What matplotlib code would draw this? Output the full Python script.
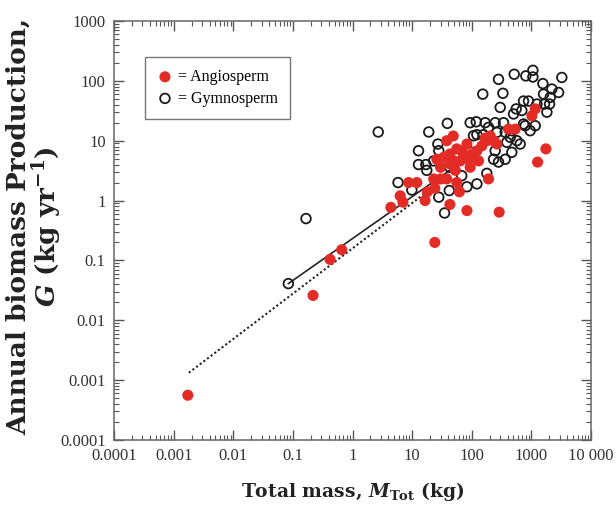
import numpy as np
import matplotlib.pyplot as plt
from matplotlib.ticker import FixedLocator, LogLocator, NullFormatter

plt.rcParams['font.family'] = ['Liberation Serif', 'DejaVu Serif']
plt.rcParams['mathtext.fontset'] = 'custom'
plt.rcParams['mathtext.rm'] = 'DejaVu Serif'
plt.rcParams['mathtext.it'] = 'DejaVu Serif:italic'
plt.rcParams['mathtext.bf'] = 'DejaVu Serif:bold'
plt.rcParams['mathtext.bfit'] = 'DejaVu Serif:italic:bold'

# angiosperms (filled red): total mass (kg), annual production (kg/yr)
angio_mass = [0.00173, 0.218, 0.42, 0.66,
              4.4, 6.3, 7.0, 8.7, 12, 16.5, 18, 24, 23, 30, 38, 24, 43, 62, 56, 53,
              49, 26, 34, 43, 38, 49, 56, 73, 83, 94, 100, 122, 130, 148, 168, 204,
              232, 264, 191, 83, 288, 414, 535, 1020, 1160, 1750, 1270, 68, 30,
              64, 88, 43, 179]
angio_prod = [0.00056, 0.026, 0.104, 0.151,
              0.77, 1.2, 0.94, 2.0, 2.0, 1.0, 1.4, 1.6, 2.3, 2.3, 2.3, 0.20, 0.86, 1.4, 2.0, 3.2,
              4.6, 4.9, 5.3, 6.0, 10, 12, 7.3, 5.3, 8.8, 3.6, 6.0, 6.8, 4.6, 8.2, 11, 12,
              10, 8.8, 2.3, 0.68, 0.64, 15.6, 15.6, 26, 34, 7.3, 4.4, 6.8, 3.6,
              4.6, 4.9, 4.1, 10]

# gymnosperms (open circles)
gymno_mass = [0.084, 0.166,
              2.7, 5.8, 9.9, 12.8, 12.8, 17, 17.6, 19, 27, 28, 28, 35, 39, 42, 43, 68,
              83, 122, 119, 168, 179, 122, 157, 247, 341, 264, 281, 153, 333, 300,
              515, 807, 1060, 1060, 1560, 3240, 1600, 2210, 2860, 2070, 1660, 2020,
              738, 895, 556, 692, 738, 502, 1240, 1820, 955, 1160, 247, 232, 281,
              364, 470, 388, 442, 570, 649, 470, 364, 787, 23, 107, 191, 88, 94]
gymno_prod = [0.041, 0.50,
              14, 2.0, 1.5, 6.8, 4.0, 4.0, 3.2, 14, 8.8, 6.8, 1.14, 0.62, 19.5, 1.47, 3.6, 2.6,
              1.7, 1.9, 20.7, 20, 2.85, 12.6, 12.6, 20, 20, 13.8, 106, 60, 62, 36,
              129, 121, 150, 116, 90, 114, 60, 73, 64, 53, 41, 41,
              46, 46, 34, 32, 19, 28, 41, 30, 14.7, 17.8, 6.8, 4.9, 4.4,
              4.9, 6.4, 9.4, 11.4, 10, 8.8, 14.7, 13.8, 17.8, 4.6, 12.1, 16.7, 6.8, 20]

# fitted lines (end points)
solid_x = [0.084, 60]
solid_y = [0.041, 4.07]
dotted_x = [0.0018, 60]
dotted_y = [0.00133, 3.53]

decades = [1e-4, 1e-3, 1e-2, 1e-1, 1, 10, 100, 1000, 1e4]
x_labels = ["0.0001", "0.001", "0.01", "0.1", "1", "10", "100", "1000", "10 000"]
y_labels = ["0.0001", "0.001", "0.01", "0.1", "1", "10", "100", "1000"]

fig = plt.figure(figsize=(6.16, 5.08), dpi=100)
ax = fig.add_axes([114/616, 1-440/508, 477/616, 419/508])

ax.plot(solid_x, solid_y, color='#222222', lw=1.2, zorder=2)
ax.plot(dotted_x, dotted_y, color='#222222', lw=1.5, ls=(0, (1, 1.2)), zorder=2)

ax.scatter(gymno_mass, gymno_prod, s=48, facecolors='none', edgecolors='#1a1a1a',
           linewidths=1.3, zorder=3, label='= Gymnosperm')
ax.scatter(angio_mass, angio_prod, s=64, color='#e42c27', edgecolors='none',
           zorder=4, label='= Angiosperm')

ax.set_xscale('log')
ax.set_yscale('log')
ax.set_xlim(1e-4, 1e4)
ax.set_ylim(1e-4, 1e3)

ax.xaxis.set_major_locator(FixedLocator(decades))
ax.set_xticklabels(x_labels)
ax.yaxis.set_major_locator(FixedLocator(decades[:8]))
ax.set_yticklabels(y_labels)
for axis in (ax.xaxis, ax.yaxis):
    axis.set_minor_locator(LogLocator(base=10, subs=np.arange(2, 10), numticks=20))
    axis.set_minor_formatter(NullFormatter())

ax.tick_params(which='both', direction='in', top=True, right=True, color='#555555')
ax.tick_params(which='major', length=7, width=1, labelsize=12, labelcolor='#333333', pad=6)
ax.tick_params(which='minor', length=3.5, width=0.8)
for sp in ax.spines.values():
    sp.set_color('#666666')
    sp.set_linewidth(1.1)

ax.set_xlabel(r"Total mass, $\mathbfit{M}_{\mathbf{Tot}}$ (kg)", fontsize=13.5,
              family='DejaVu Serif', fontweight='bold', color='#222222', labelpad=11)
ax.set_ylabel("Annual biomass Production,\n" + r"$\mathbfit{G}$ (kg yr$^{\mathbf{-1}}$)",
              fontsize=19, family='DejaVu Serif', fontweight='bold', color='#222222',
              linespacing=1.0)
ax.yaxis.set_label_coords(-0.105, 0.51)

handles, labels = ax.get_legend_handles_labels()
leg = ax.legend(handles[::-1], labels[::-1], loc='upper left', bbox_to_anchor=(0.065, 0.914),
                fancybox=False, edgecolor='#555555', fontsize=11.5, handletextpad=0.3,
                handlelength=1.0, borderpad=0.75, labelspacing=0.35, borderaxespad=0)
leg.get_frame().set_linewidth(1.0)

fig.savefig('out.png', dpi=100)
